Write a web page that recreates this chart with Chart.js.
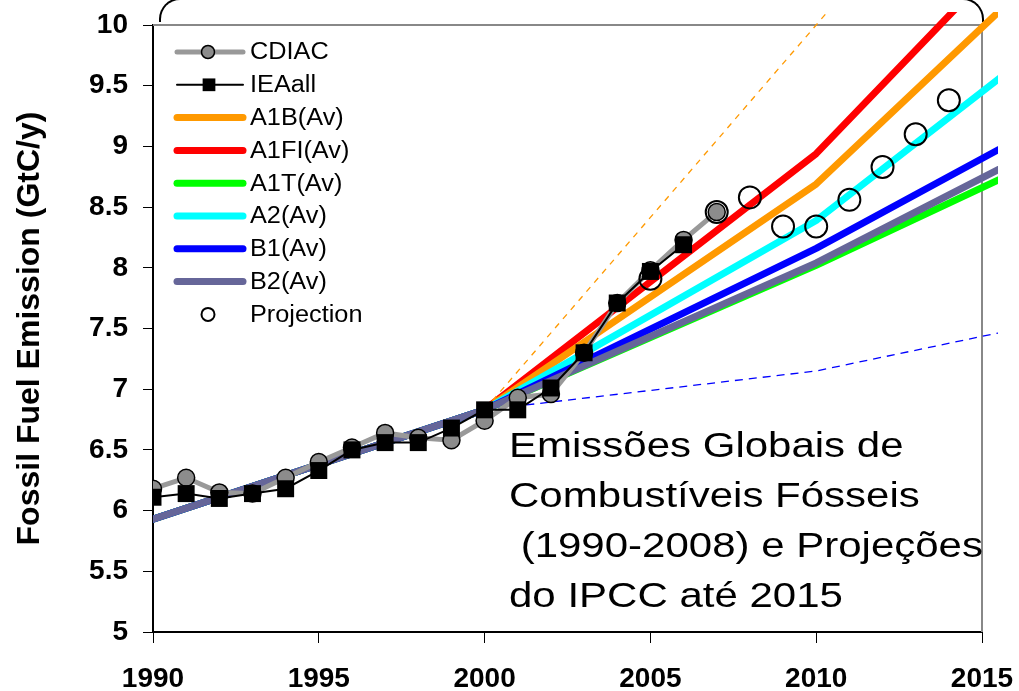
<!DOCTYPE html>
<html>
<head>
<meta charset="utf-8">
<script src="https://cdn.jsdelivr.net/npm/chart.js@4/dist/chart.umd.min.js"></script>
<style>
  body { margin: 0; background: #fff; }
  #wrap { position: relative; width: 1019px; height: 691px; overflow: hidden; }
  #frame {
    position: absolute; left: 159px; top: -2px; width: 821px; height: 22px;
    border: 2px solid #000; border-bottom: none; border-radius: 21px 21px 0 0;
  }
  canvas { position: absolute; left: 0; top: 0; }
</style>
</head>
<body>
<div id="wrap">
  <div id="frame"></div>
  <canvas id="myChart" width="1019" height="691"></canvas>
</div>
<script>
// observed emissions
var cdiacYears = [1990, 1991, 1992, 1993, 1994, 1995, 1996, 1997, 1998, 1999, 2000, 2001, 2002, 2003, 2004, 2005, 2006, 2007];
var cdiacValues = [6.18, 6.27, 6.15, 6.14, 6.27, 6.40, 6.52, 6.64, 6.60, 6.58, 6.74, 6.93, 6.96, 7.30, 7.71, 7.98, 8.23, 8.46];
var ieaYears = [1990, 1991, 1992, 1993, 1994, 1995, 1996, 1997, 1998, 1999, 2000, 2001, 2002, 2003, 2004, 2005, 2006];
var ieaValues = [6.11, 6.14, 6.10, 6.14, 6.18, 6.33, 6.50, 6.56, 6.56, 6.68, 6.83, 6.83, 7.01, 7.30, 7.71, 7.97, 8.19];

// IPCC SRES scenario averages
var sresYears = [1990, 2000, 2010, 2020];
var a1b = [5.93, 6.83, 8.69, 11.27];
var a1fi = [5.93, 6.83, 8.94, 11.78];
var a1t = [5.93, 6.83, 8.02, 9.30];
var a2 = [5.93, 6.83, 8.39, 10.51];
var b1 = [5.93, 6.83, 8.16, 9.64];
var b2 = [5.93, 6.83, 8.04, 9.44];

// scenario envelope (dashed)
var rangeYears = [2000, 2010, 2020];
var rangeHigh = [6.83, 10.0, 13.2];
var rangeLow = [6.83, 7.15, 7.72];

// projection
var projYears = [2005, 2007, 2008, 2009, 2010, 2011, 2012, 2013, 2014];
var projValues = [7.91, 8.46, 8.58, 8.34, 8.34, 8.56, 8.83, 9.10, 9.38];

var yTitle = "Fossil Fuel Emission (GtC/y)";
var noteLines = ["Emissões Globais de", "Combustíveis Fósseis", " (1990-2008) e Projeções", "do IPCC até 2015"];

var FONT = "'Liberation Sans', Arial, sans-serif";

function pts(xs, ys) {
  return xs.map(function (x, i) { return { x: x, y: ys[i] }; });
}

var lineClip = { left: 0, top: 13, right: 16, bottom: 0 };

function scenario(label, values, color, order) {
  return {
    label: label,
    data: pts(sresYears, values),
    borderColor: color,
    backgroundColor: color,
    borderWidth: 7,
    pointRadius: 0,
    fill: false,
    tension: 0,
    borderJoinStyle: "round",
    borderCapStyle: "round",
    clip: lineClip,
    order: order,
  };
}

var datasets = [
  {
    label: "CDIAC",
    data: pts(cdiacYears, cdiacValues),
    borderColor: "#999999",
    borderWidth: 5,
    pointStyle: "circle",
    pointRadius: 8.5,
    pointBorderWidth: 1.5,
    pointBorderColor: "#000",
    pointBackgroundColor: "#8c8c8c",
    legendRadius: 6.5,
    order: 2,
  },
  {
    label: "IEAall",
    data: pts(ieaYears, ieaValues),
    borderColor: "#000",
    borderWidth: 2,
    pointStyle: "rect",
    pointRadius: 12,
    pointBorderWidth: 0,
    pointBackgroundColor: "#000",
    legendRadius: 9,
    order: 1,
  },
  scenario("A1B(Av)", a1b, "#ff9900", 8),
  scenario("A1FI(Av)", a1fi, "#ff0000", 9),
  scenario("A1T(Av)", a1t, "#00ff00", 7),
  scenario("A2(Av)", a2, "#00ffff", 6),
  scenario("B1(Av)", b1, "#0000ff", 5),
  scenario("B2(Av)", b2, "#666699", 4),
  {
    label: "Projection",
    data: pts(projYears, projValues),
    showLine: false,
    pointStyle: "circle",
    pointRadius: 11,
    pointBorderWidth: 2,
    pointBorderColor: "#000",
    pointBackgroundColor: "rgba(0,0,0,0)",
    legendRadius: 6.5,
    order: 0,
  },
  {
    label: "",
    noLegend: true,
    data: pts(rangeYears, rangeHigh),
    borderColor: "#ff9900",
    borderWidth: 1.3,
    borderDash: [6, 6],
    pointRadius: 0,
    clip: lineClip,
    order: 3,
  },
  {
    label: "",
    noLegend: true,
    data: pts(rangeYears, rangeLow),
    borderColor: "#0000ff",
    borderWidth: 1.3,
    borderDash: [8, 6],
    pointRadius: 0,
    clip: lineClip,
    order: 3,
  },
];

// keep the plot box where the picture has it, whatever the label sizes
function noScalePadding(s) {
  s.paddingLeft = 0;
  s.paddingRight = 0;
  s.paddingTop = 0;
  s.paddingBottom = 0;
}

var framePlugin = {
  id: "frame",
  beforeDatasetsDraw: function (chart) {
    var a = chart.chartArea;
    var ctx = chart.ctx;
    ctx.save();
    ctx.strokeStyle = "#888";
    ctx.lineWidth = 2;
    ctx.beginPath();
    ctx.moveTo(a.left, a.top);
    ctx.lineTo(a.right, a.top);
    ctx.lineTo(a.right, a.bottom);
    ctx.stroke();
    ctx.restore();
  },
};

var legendPlugin = {
  id: "insideLegend",
  afterDatasetsDraw: function (chart) {
    var ctx = chart.ctx;
    var rowY = 52;
    chart.data.datasets.forEach(function (ds) {
      if (ds.noLegend) return;
      ctx.save();
      if (ds.showLine !== false) {
        ctx.strokeStyle = ds.borderColor;
        ctx.lineWidth = ds.borderWidth;
        ctx.lineCap = "round";
        ctx.beginPath();
        ctx.moveTo(177, rowY);
        ctx.lineTo(243, rowY);
        ctx.stroke();
      }
      if (ds.pointRadius) {
        var r = ds.legendRadius;
        if (ds.pointStyle === "rect") {
          var s = r * Math.SQRT1_2;
          ctx.fillStyle = ds.pointBackgroundColor;
          ctx.fillRect(209 - s, rowY - s, 2 * s, 2 * s);
        } else {
          ctx.beginPath();
          ctx.arc(208, rowY, r, 0, Math.PI * 2);
          ctx.fillStyle = ds.pointBackgroundColor;
          ctx.fill();
          ctx.lineWidth = ds.pointBorderWidth;
          ctx.strokeStyle = ds.pointBorderColor;
          ctx.stroke();
        }
      }
      ctx.translate(250, rowY + 1);
      ctx.scale(1.1, 1);
      ctx.fillStyle = "#000";
      ctx.font = "23px " + FONT;
      ctx.textBaseline = "middle";
      ctx.fillText(ds.label, 0, 0);
      ctx.restore();
      rowY += 32.8;
    });
  },
  afterDraw: function (chart) {
    var ctx = chart.ctx;
    ctx.save();
    ctx.fillStyle = "#000";
    ctx.font = "35px " + FONT;
    noteLines.forEach(function (line, i) {
      ctx.save();
      ctx.translate(509, 457 + i * 50);
      ctx.scale(1.2, 1);
      ctx.fillText(line, 0, 0);
      ctx.restore();
    });
    ctx.restore();
  },
};

new Chart(document.getElementById("myChart"), {
  type: "line",
  data: { datasets: datasets },
  options: {
    responsive: false,
    animation: false,
    events: [],
    layout: { padding: { top: 25, right: 37, left: 0, bottom: 0 } },
    plugins: { legend: { display: false }, tooltip: { enabled: false } },
    scales: {
      x: {
        type: "linear",
        min: 1990,
        max: 2015,
        afterFit: function (s) { s.height = 59; noScalePadding(s); },
        ticks: {
          stepSize: 5,
          padding: 19,
          color: "#000",
          font: { family: FONT, size: 28, weight: "bold" },
          callback: function (v) { return String(v); },
        },
        grid: { drawOnChartArea: false, drawTicks: true, tickLength: 11, color: "#000" },
        border: { display: true, color: "#000", width: 2 },
      },
      y: {
        type: "linear",
        min: 5,
        max: 10,
        afterFit: function (s) { s.width = 153; noScalePadding(s); },
        ticks: {
          stepSize: 0.5,
          padding: 15,
          color: "#000",
          font: { family: FONT, size: 28, weight: "bold" },
          callback: function (v) { return String(v); },
        },
        grid: { drawOnChartArea: false, drawTicks: true, tickLength: 10, color: "#000" },
        border: { display: true, color: "#000", width: 2 },
        title: {
          display: true,
          text: yTitle,
          color: "#000",
          padding: { top: 11, bottom: 0 },
          font: { family: FONT, size: 32, weight: "bold" },
        },
      },
    },
  },
  plugins: [framePlugin, legendPlugin],
});
</script>
</body>
</html>
